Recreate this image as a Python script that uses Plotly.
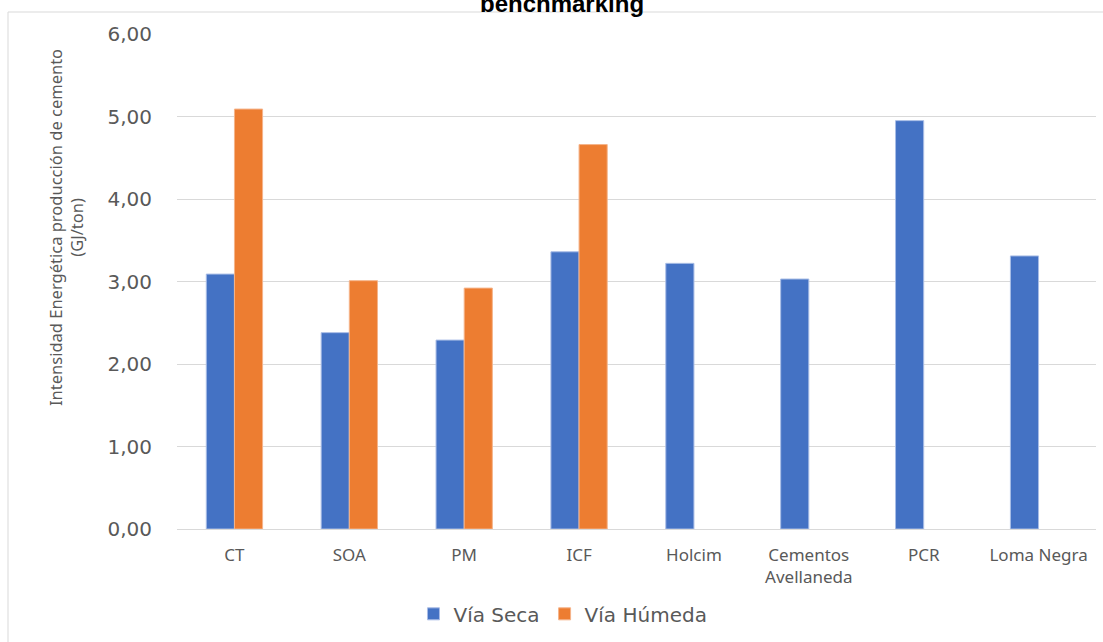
import plotly.graph_objects as go

categories = ["CT", "SOA", "PM", "ICF", "Holcim", "Cementos<br>Avellaneda", "PCR", "Loma Negra"]
via_seca = [3.09, 2.38, 2.29, 3.36, 3.22, 3.03, 4.95, 3.31]
via_humeda = [5.09, 3.01, 2.92, 4.66, None, None, None, None]
y_ticks = [0, 1, 2, 3, 4, 5, 6]

fig = go.Figure()
fig.add_trace(go.Bar(x=categories, y=via_seca, name="Vía Seca",
                     marker=dict(color="#4472C4", line=dict(color="#A9BDE6", width=1))))
fig.add_trace(go.Bar(x=categories, y=via_humeda, name="Vía Húmeda",
                     marker=dict(color="#ED7D31", line=dict(color="#F5B48A", width=1))))

fig.update_layout(
    width=1103, height=642,
    margin=dict(l=177, r=7, t=34, b=113),
    paper_bgcolor="white", plot_bgcolor="white",
    barmode="group", bargap=0.51, bargroupgap=0,
    separators=",.",
    showlegend=True,
    legend=dict(orientation="h", x=0.42, xanchor="center", y=-0.132, yanchor="top",
                font=dict(family="DejaVu Sans", size=20, color="#595959"),
                traceorder="normal"),
    xaxis=dict(showgrid=False, showline=False, ticks="", automargin=False,
               ticklabelstandoff=14,
               tickfont=dict(family="Liberation Sans Narrow, Noto Sans", size=17, color="#595959")),
    yaxis=dict(range=[0, 6], tickvals=y_ticks, tickformat=".2f", automargin=False,
               showgrid=True, gridcolor="#D9D9D9", gridwidth=1,
               zeroline=True, zerolinecolor="#D9D9D9", zerolinewidth=1,
               ticks="", ticklabelstandoff=24,
               tickfont=dict(family="DejaVu Sans", size=20, color="#595959")),
    annotations=[
        dict(text="<b>benchmarking</b>", xref="paper", yref="paper",
             x=0.419, y=1.0, yanchor="bottom", xanchor="center",
             yshift=15, showarrow=False,
             font=dict(family="Liberation Sans, Noto Sans", size=24, color="#000000")),
        dict(text="Intensidad Energética producción de cemento<br>(GJ/ton)",
             xref="paper", yref="paper", x=(66 - 177) / 919, y=(529 - 228) / 495,
             xanchor="center", yanchor="middle", textangle=-90, showarrow=False,
             font=dict(family="Liberation Sans Narrow, Noto Sans", size=16.5, color="#595959")),
    ],
    shapes=[dict(type="rect", xref="paper", yref="paper",
                 x0=(8 - 177) / 919, x1=1.02, y0=-0.3, y1=(529 - 12) / 495,
                 line=dict(color="#D9D9D9", width=1), fillcolor="rgba(0,0,0,0)", layer="below")],
)

fig.write_html("out.html", config={"displayModeBar": False},
               post_script="document.body.style.margin='0';document.body.style.overflow='hidden';")
